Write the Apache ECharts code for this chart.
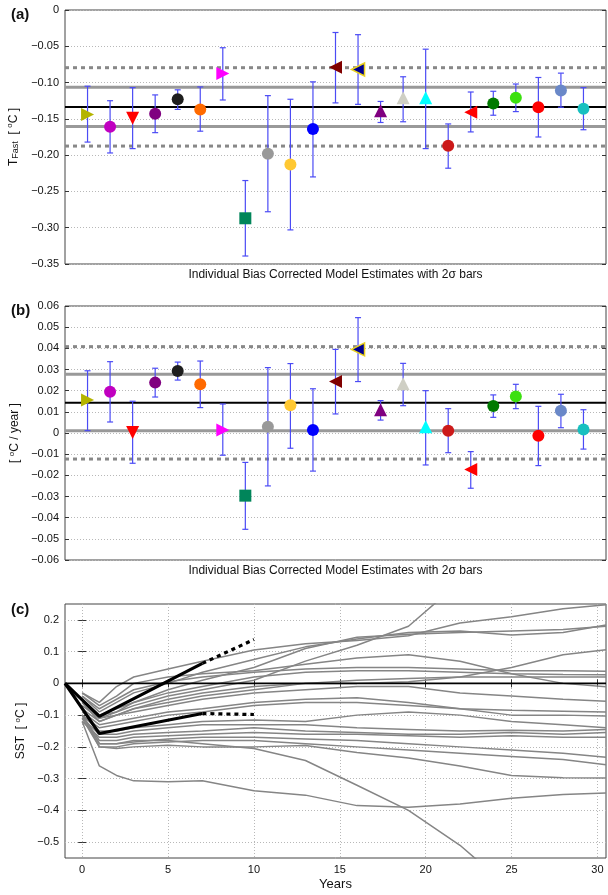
<!DOCTYPE html>
<html><head><meta charset="utf-8">
<script src="https://cdn.jsdelivr.net/npm/echarts@6/dist/echarts.min.js"></script>
<style>html,body{margin:0;padding:0;background:#fff}#c{width:608px;height:895px}</style>
</head><body><div id="c"></div>
<script>
// ---------- Data ----------
const models = [1,2,3,4,5,6,7,8,9,10,11,12,13,14,15,16,17,18,19,20,21,22,23];
const markerShapes = ['right','circle','down','circle','circle','circle','right','square','circle','circle','circle','left','left','up','up','up','circle','left','circle','circle','circle','circle','circle'];
const markerColors = ['#b4b400','#c000c0','#ff0000','#800080','#1e1e1e','#ff6a00','#ff00ff','#00855a','#999999','#ffc832','#0000ff','#800000','#000090','#800080','#cfcfc4','#00ffff','#cc1a1a','#ff0000','#007a00','#3ce010','#ff0000','#6a88c8','#18c0c0'];
const markerEdges  = [null,null,null,null,null,null,null,null,null,null,null,null,'#e8d020',null,null,null,null,null,null,null,null,null,null];

// (a) T_Fast estimates with 2-sigma bars
const tfastVal = [-0.144,-0.161,-0.149,-0.143,-0.123,-0.137,-0.0875,-0.287,-0.198,-0.213,-0.164,-0.079,-0.082,-0.139,-0.121,-0.121,-0.187,-0.141,-0.129,-0.121,-0.134,-0.111,-0.136];
const tfastLo  = [-0.182,-0.197,-0.191,-0.169,-0.137,-0.167,-0.124,-0.339,-0.278,-0.303,-0.230,-0.128,-0.130,-0.155,-0.154,-0.191,-0.218,-0.168,-0.145,-0.140,-0.175,-0.134,-0.165];
const tfastHi  = [-0.105,-0.125,-0.107,-0.117,-0.110,-0.106,-0.052,-0.235,-0.118,-0.123,-0.099,-0.031,-0.034,-0.126,-0.092,-0.054,-0.157,-0.113,-0.112,-0.102,-0.093,-0.087,-0.107];
// mean, +1sd, -1sd, +2sd, -2sd
const tfastStats = [-0.1335,-0.1065,-0.1605,-0.0795,-0.1875];

// (b) trend estimates [degC / year]
const trendVal = [0.0156,0.0195,0.0002,0.0238,0.0293,0.0230,0.0014,-0.0296,0.0030,0.0131,0.0014,0.0243,0.0395,0.0110,0.0233,0.0030,0.0011,-0.0173,0.0128,0.0173,-0.0013,0.0105,0.0017];
const trendLo  = [0.0011,0.0052,-0.0143,0.0170,0.0250,0.0120,-0.0105,-0.0455,-0.0250,-0.0072,-0.0180,0.0090,0.0243,0.0061,0.0129,-0.0151,-0.0093,-0.0261,0.0074,0.0115,-0.0154,0.0025,-0.0076];
const trendHi  = [0.0294,0.0337,0.0150,0.0306,0.0335,0.0340,0.0137,-0.0139,0.0309,0.0328,0.0209,0.0395,0.0545,0.0153,0.0329,0.0200,0.0115,-0.0088,0.0180,0.0230,0.0126,0.0183,0.0110];
const trendStats = [0.0143,0.0277,0.0011,0.0408,-0.0123];

// (c) SST response of individual models
const sstYears = [0,1,2,3,5,7,10,13,16,19,22,25,28,30.5];
const sstRuns = [
  [-0.03,-0.06,-0.01,0.02,0.045,0.07,0.105,0.125,0.135,0.15,0.19,0.21,0.235,0.248],
  [-0.04,-0.09,-0.06,-0.03,0.0,0.035,0.075,0.115,0.14,0.16,0.165,0.152,0.16,0.184],
  [-0.05,-0.10,-0.08,-0.06,-0.02,0.01,0.05,0.11,0.145,0.155,0.16,0.165,0.17,0.18],
  [-0.06,-0.10,-0.09,-0.07,-0.04,-0.02,0.01,0.07,0.12,0.18,0.32,0.45,0.55,0.60],
  [-0.03,-0.07,-0.04,0.0,0.02,0.03,0.04,0.06,0.08,0.09,0.07,0.03,0.0,-0.011],
  [-0.06,-0.12,-0.10,-0.08,-0.05,-0.03,-0.01,0.0,0.0,0.005,0.02,0.05,0.09,0.106],
  [-0.04,-0.08,-0.05,-0.02,0.005,0.02,0.035,0.045,0.05,0.05,0.045,0.04,0.04,0.038],
  [-0.07,-0.11,-0.09,-0.06,-0.03,-0.01,0.02,0.035,0.04,0.04,0.035,0.03,0.028,0.027],
  [-0.08,-0.12,-0.10,-0.08,-0.06,-0.04,-0.02,0.0,0.01,0.015,0.02,0.02,0.02,0.02],
  [-0.06,-0.11,-0.10,-0.09,-0.07,-0.05,-0.03,-0.02,-0.01,-0.01,-0.03,-0.04,-0.05,-0.056],
  [-0.10,-0.14,-0.13,-0.12,-0.10,-0.09,-0.07,-0.06,-0.06,-0.07,-0.08,-0.085,-0.088,-0.09],
  [-0.09,-0.13,-0.12,-0.11,-0.09,-0.08,-0.06,-0.05,-0.045,-0.06,-0.08,-0.10,-0.10,-0.103],
  [-0.10,-0.15,-0.15,-0.14,-0.13,-0.12,-0.115,-0.12,-0.10,-0.09,-0.10,-0.12,-0.13,-0.14],
  [-0.11,-0.16,-0.16,-0.15,-0.14,-0.13,-0.13,-0.13,-0.14,-0.145,-0.15,-0.148,-0.15,-0.145],
  [-0.12,-0.17,-0.17,-0.16,-0.155,-0.15,-0.14,-0.15,-0.155,-0.16,-0.16,-0.155,-0.16,-0.155],
  [-0.10,-0.18,-0.18,-0.17,-0.165,-0.16,-0.155,-0.16,-0.16,-0.165,-0.17,-0.165,-0.17,-0.17],
  [-0.10,-0.19,-0.19,-0.185,-0.175,-0.17,-0.17,-0.175,-0.18,-0.19,-0.20,-0.21,-0.22,-0.233],
  [-0.11,-0.20,-0.20,-0.19,-0.185,-0.18,-0.18,-0.19,-0.20,-0.21,-0.22,-0.23,-0.24,-0.256],
  [-0.10,-0.20,-0.205,-0.20,-0.195,-0.20,-0.20,-0.196,-0.218,-0.235,-0.26,-0.29,-0.297,-0.298],
  [-0.10,-0.19,-0.19,-0.18,-0.18,-0.19,-0.205,-0.243,-0.321,-0.40,-0.51,-0.65,-0.75,-0.80],
  [-0.12,-0.26,-0.29,-0.307,-0.31,-0.307,-0.338,-0.352,-0.385,-0.39,-0.38,-0.362,-0.35,-0.345]
];
// fitted two-timescale responses (solid) and their extrapolation (dotted)
const fitYears = [-1,1,7];
const fitUpper = [0,-0.104,0.063];
const fitLower = [0,-0.158,-0.095];
const extYears = [7,10];
const extUpper = [0.063,0.138];
const extLower = [-0.095,-0.098];

const ticksA = [-0.35,-0.30,-0.25,-0.20,-0.15,-0.10,-0.05,0];
const ticksB = [-0.06,-0.05,-0.04,-0.03,-0.02,-0.01,0,0.01,0.02,0.03,0.04,0.05,0.06];
const ticksCy = [-0.5,-0.4,-0.3,-0.2,-0.1,0,0.1,0.2];
const ticksCx = [0,5,10,15,20,25,30];

// ---------- Chart ----------
const FONT = 'Liberation Sans, Arial, Helvetica, sans-serif';
const fmt = d => v => Math.abs(v) < 1e-9 ? '0' : (v < 0 ? '\u2212' : '') + Math.abs(v).toFixed(d);
const gridDef = top => ({left:65, top:top, width:541, height:254, show:true, borderColor:'#444', borderWidth:1,
  backgroundColor:'transparent', containLabel:false, outerBoundsMode:'none'});
const dotted = {show:true, lineStyle:{color:'#b8b8b8', type:[1,2], width:1}};
const tickIn = {show:true, inside:true, length:4, lineStyle:{color:'#333'}};
const labelStyle = {color:'#111', fontSize:11, fontFamily:FONT};
const nameRich = {
  main:{fontSize:12, fontFamily:FONT, color:'#111'},
  sub:{fontSize:9, fontFamily:FONT, color:'#111', verticalAlign:'bottom', padding:[5,0,0,0]},
  sup:{fontSize:8, fontFamily:FONT, color:'#111', verticalAlign:'top', padding:[0,0,5,0]}
};

function symbolFor(s){ return s==='circle'?'circle':(s==='square'?'rect':'triangle'); }
function rotFor(s){ return s==='right'?-90:(s==='left'?90:(s==='down'?180:0)); }
function markerData(vals){
  return models.map((m,i)=>({
    value:[m, vals[i]],
    symbol: symbolFor(markerShapes[i]),
    symbolRotate: rotFor(markerShapes[i]),
    symbolSize: markerShapes[i]==='square'?12:(markerShapes[i]==='circle'?12:13),
    itemStyle:{opacity:1, color:markerColors[i], borderColor: markerEdges[i] || markerColors[i], borderWidth: markerEdges[i]?1.5:0}
  }));
}
function errBars(ax, lo, hi){
  return {
    type:'custom', xAxisIndex:ax, yAxisIndex:ax*2, z:4, silent:true,
    data: models.map((m,i)=>[m, lo[i], hi[i]]),
    encode:{x:0, y:[1,2]},
    renderItem:(params, api)=>{
      const x = api.value(0);
      const a = api.coord([x, api.value(1)]);
      const b = api.coord([x, api.value(2)]);
      const st = {stroke:'#4b4bf5', lineWidth:1.2};
      return {type:'group', children:[
        {type:'line', shape:{x1:a[0],y1:a[1],x2:b[0],y2:b[1]}, style:st},
        {type:'line', shape:{x1:a[0]-3,y1:a[1],x2:a[0]+3,y2:a[1]}, style:st},
        {type:'line', shape:{x1:b[0]-3,y1:b[1],x2:b[0]+3,y2:b[1]}, style:st}
      ]};
    }
  };
}
function statLines(ax, stats){
  const styles = [
    {color:'#000', width:2, type:'solid'},
    {color:'#999', width:3, type:'solid'},
    {color:'#999', width:3, type:'solid'},
    {color:'#888', width:3, type:[4,4]},
    {color:'#888', width:3, type:[4,4]}
  ];
  return stats.map((v,k)=>({
    type:'line', xAxisIndex:ax, yAxisIndex:ax*2, z:2, silent:true, showSymbol:false,
    data:[[0,v],[24,v]], lineStyle:styles[k]
  }));
}
const bottomTitle = 'Individual Bias Corrected Model Estimates with 2\u03c3 bars';
function abX(idx){
  return {gridIndex:idx, type:'value', min:0, max:24,
    axisLine:{show:false}, axisTick:{show:false}, axisLabel:{show:false}, splitLine:{show:false},
    name:bottomTitle, nameLocation:'middle', nameGap:5,
    nameTextStyle:{fontSize:12, fontFamily:FONT, color:'#111', verticalAlign:'top'}};
}
function abY(idx, min, max, interval, d, name){
  return [
    {gridIndex:idx, type:'value', min:min, max:max, interval:interval,
      axisLine:{show:false}, axisTick:tickIn, splitLine:dotted,
      axisLabel:Object.assign({formatter:fmt(d), margin:6}, labelStyle),
      name:name, nameLocation:'middle', nameGap:44, nameRotate:90,
      nameTextStyle:{fontSize:12, fontFamily:FONT, color:'#111', rich:nameRich}},
    {gridIndex:idx, type:'value', position:'right', min:min, max:max, interval:interval,
      axisLine:{show:false}, axisTick:tickIn, splitLine:{show:false}, axisLabel:{show:false}}
  ];
}

const series = [];
// panel a
series.push(...statLines(0, tfastStats));
series.push(errBars(0, tfastLo, tfastHi));
series.push({type:'scatter', xAxisIndex:0, yAxisIndex:0, z:5, silent:true, data:markerData(tfastVal)});
// panel b
series.push(...statLines(1, trendStats));
series.push(errBars(1, trendLo, trendHi));
series.push({type:'scatter', xAxisIndex:1, yAxisIndex:2, z:5, silent:true, data:markerData(trendVal)});
// panel c
sstRuns.forEach(run=>{
  series.push({type:'line', xAxisIndex:2, yAxisIndex:4, z:2, silent:true, showSymbol:false, clip:true,
    data: sstYears.map((y,i)=>[y, run[i]]), lineStyle:{color:'#858585', width:1.5}});
});
series.push({type:'line', xAxisIndex:2, yAxisIndex:4, z:3, silent:true, showSymbol:false,
  data:[[-1,0],[30.5,0]], lineStyle:{color:'#000', width:1.8}});
[fitUpper, fitLower].forEach(f=>{
  series.push({type:'line', xAxisIndex:2, yAxisIndex:4, z:4, silent:true, showSymbol:false,
    data: fitYears.map((y,i)=>[y, f[i]]), lineStyle:{color:'#000', width:3.2}});
});
[extUpper, extLower].forEach(f=>{
  series.push({type:'line', xAxisIndex:2, yAxisIndex:4, z:4, silent:true, showSymbol:false,
    data: extYears.map((y,i)=>[y, f[i]]), lineStyle:{color:'#000', width:3.2, type:[4,4]}});
});

const option = {
  animation:false,
  backgroundColor:'#fff',
  textStyle:{fontFamily:FONT},
  title:[
    {text:'(a)', left:6, top:2, textStyle:{fontSize:15, fontWeight:'bold', color:'#111', fontFamily:FONT}},
    {text:'(b)', left:6, top:298, textStyle:{fontSize:15, fontWeight:'bold', color:'#111', fontFamily:FONT}},
    {text:'(c)', left:6, top:597, textStyle:{fontSize:15, fontWeight:'bold', color:'#111', fontFamily:FONT}}
  ],
  grid:[gridDef(10), gridDef(306), gridDef(604)],
  xAxis:[
    abX(0), abX(1),
    {gridIndex:2, type:'value', min:-1, max:30.5,
      axisLine:{show:false},
      axisTick:Object.assign({customValues:ticksCx}, tickIn),
      axisLabel:Object.assign({customValues:ticksCx, margin:6}, labelStyle),
      splitLine:dotted,
      name:'Years', nameLocation:'middle', nameGap:20,
      nameTextStyle:{fontSize:13, fontFamily:FONT, color:'#111', verticalAlign:'top'}},
    {gridIndex:2, type:'value', position:'top', min:-1, max:30.5,
      axisLine:{show:false}, axisTick:Object.assign({customValues:ticksCx}, tickIn),
      axisLabel:{show:false}, splitLine:{show:false}}
  ],
  yAxis:[
    ...abY(0, ticksA[0], ticksA[ticksA.length-1], 0.05, 2, '{main|T}{sub|Fast}{main|  [ }{sup|o}{main|C ]}'),
    ...abY(1, ticksB[0], ticksB[ticksB.length-1], 0.01, 2, '{main|[ }{sup|o}{main|C / year ]}'),
    {gridIndex:2, type:'value', min:-0.55, max:0.25,
      axisLine:{show:false},
      axisTick:Object.assign({customValues:ticksCy}, tickIn),
      axisLabel:Object.assign({customValues:ticksCy, formatter:fmt(1), margin:6}, labelStyle),
      splitLine:dotted,
      name:'{main|SST  [ }{sup|o}{main|C ]}', nameLocation:'middle', nameGap:38, nameRotate:90,
      nameTextStyle:{fontSize:12, fontFamily:FONT, color:'#111', rich:nameRich}},
    {gridIndex:2, type:'value', position:'right', min:-0.55, max:0.25,
      axisLine:{show:false}, axisTick:Object.assign({customValues:ticksCy}, tickIn),
      axisLabel:{show:false}, splitLine:{show:false}}
  ],
  series:series
};
const chart = echarts.init(document.getElementById('c'), null, {renderer:'canvas'});
chart.setOption(option);
</script>
</body></html>
